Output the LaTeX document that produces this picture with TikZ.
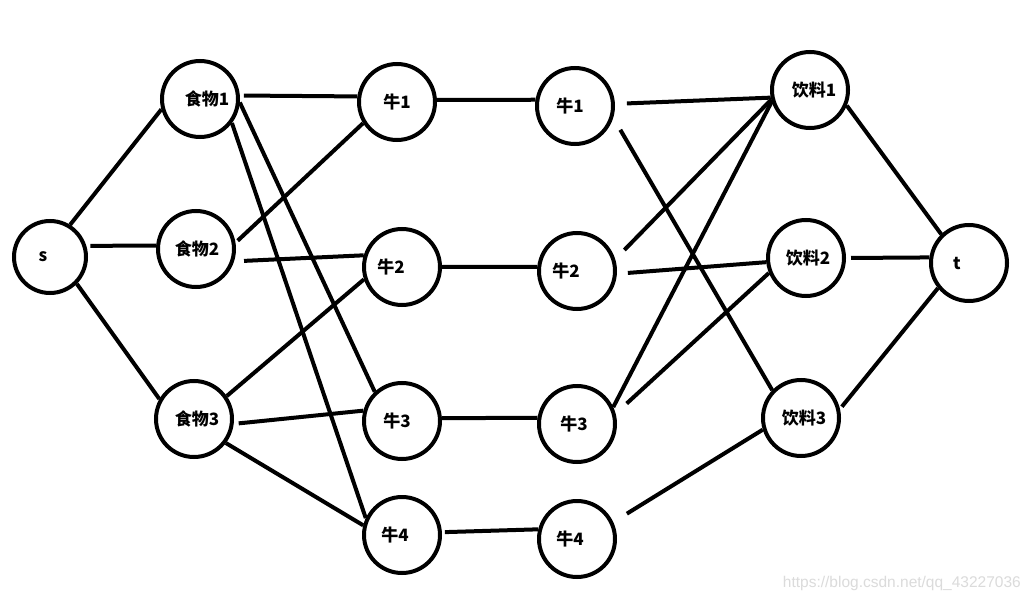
\documentclass[tikz,border=0pt]{standalone}
\usepackage{fontspec}
\setmainfont{Noto Sans CJK SC}
\newfontfamily\wmfont{Liberation Sans}
\newcommand\sx[2]{\hspace*{#1}\makebox[0pt]{#2}\hspace*{-#1}}
\begin{document}
\begin{tikzpicture}[x=1pt,y=1pt,
  vtx/.style={circle,draw=black,line width=4pt,minimum size=76pt,inner sep=0pt,
    font=\fontsize{17}{19}\selectfont\bfseries},
  edge/.style={draw=black,line width=4pt}]
\useasboundingbox[fill=white] (0,0) rectangle (1033,-604);
% nodes
\node[vtx,minimum size=72pt] (s) at (50,-257) {\sx{-7pt}{s}};
\node[vtx] (f1) at (200,-99) {\sx{7pt}{食物1}};
\node[vtx] (f2) at (196,-249) {\sx{1pt}{食物2}};
\node[vtx] (f3) at (194,-419) {\sx{3pt}{食物3}};
\node[vtx] (a1) at (397,-102) {\sx{0pt}{牛1}};
\node[vtx] (a2) at (402,-267) {\sx{-11pt}{牛2}};
\node[vtx] (a3) at (402,-421) {\sx{-5pt}{牛3}};
\node[vtx] (a4) at (402,-535) {\sx{-7pt}{牛4}};
\node[vtx] (b1) at (575,-106) {\sx{-5pt}{牛1}};
\node[vtx] (b2) at (577,-271) {\sx{-11pt}{牛2}};
\node[vtx] (b3) at (577,-424) {\sx{-3pt}{牛3}};
\node[vtx] (b4) at (577,-539) {\sx{-7pt}{牛4}};
\node[vtx] (d1) at (810,-90) {\sx{4pt}{饮料1}};
\node[vtx] (d2) at (806,-258) {\sx{2pt}{饮料2}};
\node[vtx] (d3) at (801,-418) {\sx{3pt}{饮料3}};
\node[vtx] (t) at (969,-263) {\sx{-12pt}{t}};
% edges
\path[edge] (s.58) -- (f1.195);
\path[edge,shorten <=4pt] (s.17) -- (f2.175);
\path[edge] (s.-45) -- (f3.150);
\path[edge,shorten <=4pt] (f1.5) -- (a1.172);
\path[edge] (f1.-5) -- (a3.133);
\path[edge] (f1.-37) -- (a4.155);
\path[edge,shorten <=3pt] (f2.9) -- (a1.212);
\path[edge,shorten <=10pt] (f2.-18) -- (a2.163);
\path[edge] (f3.35) -- (a2.198);
\path[edge,shorten <=5pt] (f3.-7) -- (a3.165);
\path[edge] (f3.-37) -- (a4.166);
\path[edge] (a1.3) -- (b1.171);
\path[edge] (a2.0) -- (b2.174);
\path[edge] (a3.4) -- (b3.171);
\path[edge,shorten <=3pt] (a4.4) -- (b4.166);
\path[edge,shorten <=12pt] (b1.3) -- (d1.191);
\path[edge,shorten <=14pt] (b1.-17) -- (d3.136);
\path[edge,shorten <=13pt] (b2.17) -- (d1.194);
\path[edge,shorten <=11pt] (b2.-4) -- (d2.186);
\path[edge] (b3.25) -- (d1.197);
\path[edge,shorten <=15pt] (b3.15) -- (d2.202);
\path[edge,shorten <=16pt] (b4.25) -- (d3.197);
\path[edge] (d1.-23) -- (t.134);
\path[edge,shorten <=5pt] (d2.0) -- (t.172);
\path[edge,shorten <=3pt] (d3.13) -- (t.219);
% watermark
\node[anchor=east,font=\wmfont\fontsize{15.5}{17}\selectfont,text=black!14,inner sep=0pt] (wm) at (1021,-583) {https://blog.csdn.net/qq\_43227036};
\end{tikzpicture}
\end{document}
